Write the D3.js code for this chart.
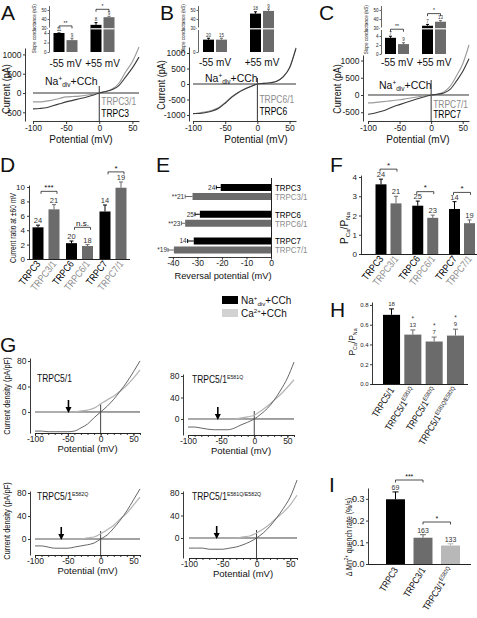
<!DOCTYPE html>
<html><head><meta charset="utf-8">
<script src="https://cdn.jsdelivr.net/npm/d3@7"></script>
<style>
body{margin:0;background:#fff}
svg{display:block;font-family:"Liberation Sans",Arial,Helvetica,sans-serif}
</style></head><body>
<script>
// ================= DATA =================
const ivVolts = [-100,-90,-80,-70,-60,-50,-40,-30,-20,-10,0,10,20,30,40,50,60];
const ivXTicks = [-100,-50,0,50];
const ivTRPC3   = [-410,-400,-380,-330,-280,-230,-190,-150,-110,-60,0,40,90,200,420,650,930];
const ivTRPC3_1 = [-230,-230,-210,-180,-140,-100,-90,-80,-60,-30,0,40,110,260,550,810,1190];
const ivTRPC6   = [-950,-950,-920,-870,-780,-620,-430,-280,-170,-80,0,20,40,90,230,520,1150];
const ivTRPC6_1 = [-970,-930,-900,-850,-760,-600,-410,-270,-160,-70,0,20,40,90,230,530,1170];
const ivTRPC7   = [-560,-530,-480,-420,-340,-280,-220,-160,-100,-50,0,20,60,160,400,680,1050];
const ivTRPC7_1 = [-230,-220,-200,-180,-160,-140,-110,-80,-50,-20,0,30,90,250,550,900,1450];

const insetGroups = ["-55 mV","+55 mV"];
const slopeA_wt = [4.0,33.5], slopeA_wtErr = [0.4,2.5], slopeA_het = [2.5,42], slopeA_hetErr = [0.4,1.0];
const slopeA_nWt = [11,8], slopeA_nHet = [9,9], slopeA_sig = ["**","*"];
const slopeB_wt = [2.6,46], slopeB_wtErr = [0.3,2], slopeB_het = [2.6,49], slopeB_hetErr = [0.3,2];
const slopeB_nWt = [20,18], slopeB_nHet = [15,9], slopeB_sig = [null,null];
const slopeC_wt = [3.6,32.5], slopeC_wtErr = [0.35,1.5], slopeC_het = [2.2,37], slopeC_hetErr = [0.3,1.2];
const slopeC_nWt = [7,7], slopeC_nHet = [9,13], slopeC_sig = ["**","*"];

const chGroups = ["TRPC3","TRPC6","TRPC7"];
const chHetLabels = ["TRPC3/1","TRPC6/1","TRPC7/1"];
const ratioWT = [4.4,2.2,6.6], ratioWTerr = [0.3,0.3,0.9];
const ratioHet = [6.9,1.8,9.9], ratioHetErr = [0.65,0.2,0.8];
const ratioNWT = [24,20,14], ratioNHet = [21,18,19];
const ratioSig = ["***","n.s.","*"], ratioSigAt = [9.4,4.4,12.1];
const ratioTicks = [0,2,4,6,8,10];

const revWT = [-20.5,-29,-31.5], revWTerr = [1.8,2,2.5];
const revHet = [-32,-35,-39.6], revHetErr = [3,1.5,2.4];
const revNWT = [24,25,14], revNHet = [21,23,19], revSig = ["**","**","*"];
const revTicks = [-40,-30,-20,-10,0];

const permWT = [3.62,2.51,2.34], permWTerr = [0.27,0.24,0.38];
const permHet = [2.63,1.88,1.6], permHetErr = [0.37,0.14,0.17];
const permNWT = [24,25,14], permNHet = [21,23,19], permSig = ["*","*","*"], permSigAt = [4.41,3.24,3.2];
const permTicks = [0,1,2,3,4];

const h5Base = "TRPC5/1", h5Sup = ["","E581Q","E582Q","E581Q/E582Q"];
const h5Vals = [0.70,0.50,0.43,0.49], h5Err = [0.06,0.047,0.045,0.065];
const h5N = [18,13,7,9], h5Sig = ["","*","*","*"];
const h5Ticks = [0,0.2,0.4,0.6,0.8];

const mnBase = ["TRPC3","TRPC3/1","TRPC3/1"], mnSup = ["","","E582Q"];
const mnVals = [0.298,0.121,0.085], mnErr = [0.034,0.014,0.008], mnN = [69,163,133];
const mnTicks = [0,0.1,0.2,0.3];

const gNames = ["", "E581Q", "E582Q", "E581Q/E582Q"];
const gNa1 = [-30,-30,-31,-31,-31,-31,-30,-25,-19,-9,0,9,20,33,47,63,80];
const gCa1 = [0,0,0,0,0,0,0,1.6,3,6,12.5,19,25,33,42,53,66];
const gNa2 = [-15,-15,-17,-19,-20,-20,-20,-17,-11,-6,0,9,20,35,54,76,106];
const gCa2 = [0,0,0,0,0,0,0,0,2,4,7,15,24,35,46,59,73];
const gNa3 = [-12,-12,-14,-16,-16,-16,-14,-12,-10,-7,0,7,19,33,49,68,87];
const gCa3 = [0,0,0,0,0,0,0,0,2,3.5,9,16,24,35,45,59,73];
const gNa4 = [-18,-18,-18,-20,-20,-20,-18,-16,-12,-7,0,9,21,36,53,73,103];
const gCa4 = [0,0,0,0,0,0,0,0,2,3.6,9,16,25,36,46,59,76];
const gArrowV = [-49,-55,-60,-59];
const gYTicks = [0,40,80];

// ================= HELPERS =================
const svg = d3.select("body").append("svg").attr("width",477).attr("height",618);
svg.append("rect").attr("width",477).attr("height",618).attr("fill","#fff");
const GRAYBAR = "#6b6b6b", GRAYTXT = "#8c8c8c", INK = "#111";
const plain = d => String(d);

function T(g, x, y, parts, o = {}) {
  const fs = o.size || 10;
  let tr = `translate(${x},${y})`;
  if (o.rotate) tr += ` rotate(${o.rotate})`;
  if (o.sx && o.sx !== 1) tr += ` scale(${o.sx},1)`;
  const t = g.append("text").attr("transform", tr).attr("font-size", fs)
    .attr("fill", o.fill || INK).attr("text-anchor", o.anchor || "start");
  if (o.weight) t.attr("font-weight", o.weight);
  if (typeof parts === "string") parts = [[parts]];
  let cur = 0;
  parts.forEach(([s, k]) => {
    if (!s) return;
    const ts = t.append("tspan").text(s);
    let want = 0;
    if (k === "sup") { ts.attr("font-size", fs * 0.62); want = -fs * 0.4; }
    else if (k === "sub") { ts.attr("font-size", fs * 0.62); want = fs * 0.22; }
    if (want !== cur) { ts.attr("dy", want - cur); cur = want; }
  });
  return t;
}
function styleAxis(a, fs) {
  a.attr("font-family", null).attr("font-size", fs);
  a.selectAll("path,line").attr("stroke", "#222").attr("stroke-width", 0.9);
  a.selectAll("text").attr("fill", "#222");
  return a;
}
function vbar(g, cx, w, y, v, err, fill, base, cap) {
  g.append("rect").attr("x", cx - w/2).attr("y", y(v)).attr("width", w)
    .attr("height", y(base) - y(v)).attr("fill", fill);
  if (err) {
    g.append("line").attr("x1", cx).attr("x2", cx).attr("y1", y(v)).attr("y2", y(v + err))
      .attr("stroke", fill).attr("stroke-width", 1);
    g.append("line").attr("x1", cx - cap/2).attr("x2", cx + cap/2).attr("y1", y(v + err)).attr("y2", y(v + err))
      .attr("stroke", fill).attr("stroke-width", 1);
  }
}
function bracket(g, x1, x2, yy, txt, fs) {
  g.append("path").attr("d", `M${x1},${yy + 2.5}V${yy}H${x2}V${yy + 2.5}`)
    .attr("fill", "none").attr("stroke", "#222").attr("stroke-width", 0.8);
  T(g, (x1 + x2) / 2, yy - 1.2, txt, {size: fs, anchor: "middle"});
}
const naLabel = [["Na"],["+","sup"],["div","sub"],["+CCh"]];

// ================= PANEL LETTERS =================
[["A",1,20],["B",160,20],["C",319,20],["D",0,172],["E",156,172],["F",330,172],["G",0,352],["H",330,317],["I",329,492]]
  .forEach(([s,x,y]) => T(svg, x, y, s, {size: 21}));

// ================= IV PANELS (A, B, C) =================
function ivPanel(p) {
  const g = svg.append("g");
  const x = d3.scaleLinear().domain([-100, 60]).range(p.xr);
  const y = d3.scaleLinear().domain(p.yd).range(p.yr);
  styleAxis(g.append("g").attr("transform", `translate(0,${p.xAxisY})`)
    .call(d3.axisBottom(x).tickValues(ivXTicks).tickFormat(plain).tickSize(3).tickPadding(1).tickSizeOuter(0)), 8.5);
  styleAxis(g.append("g").attr("transform", `translate(${p.yAxisX},0)`)
    .call(d3.axisLeft(y).tickValues(p.yTicks).tickFormat(plain).tickSize(2).tickPadding(1.5).tickSizeOuter(0)), 8.5);
  g.append("line").attr("x1", x(-100)).attr("x2", x(60)).attr("y1", y(0)).attr("y2", y(0)).attr("stroke", "#333");
  g.append("line").attr("x1", x(0)).attr("x2", x(0)).attr("y1", p.vTop).attr("y2", p.xAxisY).attr("stroke", "#333");
  const line = d3.line().x((d, i) => x(ivVolts[i])).y(d => y(d)).curve(d3.curveMonotoneX);
  g.append("path").attr("d", line(p.gray)).attr("fill", "none").attr("stroke", "#9a9a9a").attr("stroke-width", 1.1);
  g.append("path").attr("d", line(p.dark)).attr("fill", "none").attr("stroke", "#3a3a3a").attr("stroke-width", 1.1);
  T(g, p.na[0], p.na[1], naLabel, {size: 10.5});
  T(g, x(0) + 2, p.labY[0], p.grayName, {size: 10, fill: GRAYTXT, sx: 0.85});
  T(g, x(0) + 2, p.labY[1], p.darkName, {size: 10, fill: "#000", sx: 0.85});
  T(g, p.yTitle[0], p.yTitle[1], "Current (pA)", {size: 10, rotate: -90, anchor: "middle", sx: 0.9});
  T(g, p.xTitle[0], p.xTitle[1], "Potential (mV)", {size: 10, anchor: "middle"});
}
ivPanel({xr:[33,139], yd:[-725,1166], yr:[121,48], xAxisY:121, yAxisX:25, yTicks:[-500,0,500,1000],
  vTop:86, dark:ivTRPC3, gray:ivTRPC3_1, darkName:"TRPC3", grayName:"TRPC3/1",
  na:[45,85], labY:[105,117], yTitle:[10,89], xTitle:[81,143]});
ivPanel({xr:[193,296], yd:[-1194,1194], yr:[121,47], xAxisY:121, yAxisX:189, yTicks:[-1000,-500,0,500,1000],
  vTop:78, dark:ivTRPC6, gray:ivTRPC6_1, darkName:"TRPC6", grayName:"TRPC6/1",
  na:[205,82], labY:[103,115], yTitle:[165,85], xTitle:[256,143]});
ivPanel({xr:[368,469], yd:[-754,1159], yr:[121,55], xAxisY:121, yAxisX:363, yTicks:[-500,0,500,1000],
  vTop:80, dark:ivTRPC7, gray:ivTRPC7_1, darkName:"TRPC7", grayName:"TRPC7/1",
  na:[379,89], labY:[108,118], yTitle:[341,89], xTitle:[418,143]});

// ================= INSETS =================
function inset(p) {
  const g = svg.append("g");
  const y = d3.scaleLinear().domain([0, 4, 30, 55]).range(p.yr);
  const cx = d3.scalePoint().domain(insetGroups).range(p.cr);
  const ya = g.append("g").attr("transform", `translate(${p.axisX},0)`)
    .call(d3.axisLeft(y).tickValues(p.ticks).tickFormat(plain).tickSize(1.5).tickPadding(1).tickSizeOuter(0));
  styleAxis(ya, 4.5);
  ya.selectAll("path,line").attr("stroke-width", 0.7);
  insetGroups.forEach((gn, i) => {
    const c = cx(gn);
    vbar(g, c - 6.5, 11, y, p.wt[i], p.wtErr[i], "#000", 0, 3);
    vbar(g, c + 6.5, 11, y, p.het[i], p.hetErr[i], GRAYBAR, 0, 3);
    T(g, c - 6.5, y(p.wt[i] + p.wtErr[i]) - 1.5, String(p.nWt[i]), {size: 4.5, anchor: "middle", fill: "#333"});
    T(g, c + 6.5, y(p.het[i] + p.hetErr[i]) - 1.5, String(p.nHet[i]), {size: 4.5, anchor: "middle", fill: "#333"});
    if (p.sig[i]) {
      const top = Math.min(y(p.wt[i] + p.wtErr[i]), y(p.het[i] + p.hetErr[i])) - 7;
      bracket(g, c - 6.5, c + 6.5, top, p.sig[i], 5);
    }
    T(g, c, p.labY, gn, {size: 10, anchor: "middle"});
  });
  const c2 = cx(insetGroups[1]);
  g.append("line").attr("x1", c2 - 12).attr("x2", c2 + 12).attr("y1", y(30) + 0.8).attr("y2", y(30) + 0.8)
    .attr("stroke", "#fff").attr("stroke-width", 1.2);
  g.append("rect").attr("x", p.axisX - 1).attr("y", y(30) - 0.5).attr("width", 2).attr("height", 2.5).attr("fill", "#fff");
  T(g, p.axisX - 13, (p.yr[0] + p.yr[3]) / 2, "Slope conductance (nS)", {size: 4.6, rotate: -90, anchor: "middle"});
}
inset({axisX:49, yr:[52,33,28,5.5], cr:[65.5,102.5], ticks:[0,2,4,30,40,50], labY:67,
  wt:slopeA_wt, wtErr:slopeA_wtErr, het:slopeA_het, hetErr:slopeA_hetErr, nWt:slopeA_nWt, nHet:slopeA_nHet, sig:slopeA_sig});
inset({axisX:198, yr:[52,33,28,5.5], cr:[215,262], ticks:[0,30,40,50], labY:66,
  wt:slopeB_wt, wtErr:slopeB_wtErr, het:slopeB_het, hetErr:slopeB_hetErr, nWt:slopeB_nWt, nHet:slopeB_nHet, sig:slopeB_sig});
inset({axisX:381, yr:[54,36,28,5.5], cr:[397,434], ticks:[0,2,4,30,40,50], labY:66,
  wt:slopeC_wt, wtErr:slopeC_wtErr, het:slopeC_het, hetErr:slopeC_hetErr, nWt:slopeC_nWt, nHet:slopeC_nHet, sig:slopeC_sig});

// ================= GROUPED BARS (D, F) =================
function groupBars(p) {
  const g = svg.append("g");
  const y = d3.scaleLinear().domain(p.yd).range(p.yr);
  const cx = d3.scalePoint().domain(chGroups).range(p.cr);
  styleAxis(g.append("g").attr("transform", `translate(${p.axisX},0)`)
    .call(d3.axisLeft(y).tickValues(p.ticks).tickFormat(plain).tickSize(2).tickPadding(2).tickSizeOuter(0)), 8);
  g.append("line").attr("x1", p.axisX).attr("x2", p.xEnd).attr("y1", y(0) + 0.5).attr("y2", y(0) + 0.5).attr("stroke", "#222");
  chGroups.forEach((gn, i) => {
    const c = cx(gn), b = c - p.off, h = c + p.off;
    vbar(g, b, 11, y, p.wt[i], p.wtErr[i], "#000", 0, 4);
    vbar(g, h, 11, y, p.het[i], p.hetErr[i], GRAYBAR, 0, 4);
    T(g, b, y(p.wt[i] + p.wtErr[i]) - 2, String(p.nWt[i]), {size: 7.5, anchor: "middle", fill: "#333"});
    T(g, h, y(p.het[i] + p.hetErr[i]) - 2, String(p.nHet[i]), {size: 7.5, anchor: "middle", fill: "#333"});
    bracket(g, b + p.br[0], h + p.br[1], y(p.sigAt[i]), p.sig[i], 8);
    T(g, b + 3, y(0) + p.labDy, gn, {size: 10, anchor: "end", rotate: -52, sx: 0.85, fill: "#000"});
    T(g, h + 3, y(0) + p.labDy, chHetLabels[i], {size: 10, anchor: "end", rotate: -52, sx: 0.85, fill: GRAYTXT});
  });
  return g;
}
const gD = groupBars({axisX:29, xEnd:130, yd:[0,10.28], yr:[259,185], cr:[46,113], off:8, ticks:ratioTicks,
  wt:ratioWT, wtErr:ratioWTerr, het:ratioHet, hetErr:ratioHetErr, nWt:ratioNWT, nHet:ratioNHet,
  sig:ratioSig, sigAt:ratioSigAt, br:[3,3], labDy:5});
T(gD, 16, 228, "Current ratio at \u00b160 mV", {size: 9, rotate: -90, anchor: "middle", sx: 0.75});
const gF = groupBars({axisX:361, xEnd:477, yd:[0,4.1], yr:[254,175.1], cr:[388.5,462], off:7.5, ticks:permTicks,
  wt:permWT, wtErr:permWTerr, het:permHet, hetErr:permHetErr, nWt:permNWT, nHet:permNHet,
  sig:permSig, sigAt:permSigAt, br:[-1,1], labDy:5});
T(gF, 348, 228, [["P"],["Ca","sub"],["/P"],["Na","sub"]], {size: 10, rotate: -90, anchor: "middle"});

// ================= E: reversal potential =================
(function () {
  const g = svg.append("g");
  const x = d3.scaleLinear().domain([-42, 0]).range([168, 271]);
  const row = d3.scalePoint().domain(chGroups).range([192, 245.5]);
  styleAxis(g.append("g").attr("transform", "translate(0,257)")
    .call(d3.axisBottom(x).tickValues(revTicks).tickFormat(plain).tickSize(2.5).tickPadding(0.5).tickSizeOuter(0)), 8.5);
  g.append("line").attr("x1", x(0) + 0.5).attr("x2", x(0) + 0.5).attr("y1", 178).attr("y2", 257).attr("stroke", "#222");
  chGroups.forEach((gn, i) => {
    [[revWT[i], revWTerr[i], revNWT[i], "", "#000", -4.5, gn, "#000"],
     [revHet[i], revHetErr[i], revNHet[i], revSig[i], GRAYBAR, 4.5, chHetLabels[i], GRAYTXT]]
      .forEach(([v, e, n, s, col, off, name, tcol]) => {
        const r = row(gn) + off;
        g.append("rect").attr("x", x(v)).attr("y", r - 3.5).attr("width", x(0) - x(v)).attr("height", 7).attr("fill", col);
        g.append("line").attr("x1", x(v)).attr("x2", x(v - e)).attr("y1", r).attr("y2", r).attr("stroke", col);
        g.append("line").attr("x1", x(v - e)).attr("x2", x(v - e)).attr("y1", r - 2).attr("y2", r + 2).attr("stroke", col);
        T(g, x(v - e) - 1, r + 2.3, s + n, {size: 6.5, anchor: "end", fill: "#333"});
        T(g, x(0) + 4, r + 3.3, name, {size: 9.3, fill: tcol, sx: 0.85});
      });
  });
  T(g, 223, 279, "Reversal potential (mV)", {size: 9.3, anchor: "middle"});
})();

// ================= LEGEND =================
(function () {
  const g = svg.append("g");
  g.append("rect").attr("x", 222).attr("y", 296).attr("width", 16).attr("height", 8).attr("fill", "#000");
  g.append("rect").attr("x", 222).attr("y", 309).attr("width", 16).attr("height", 8).attr("fill", "#d2d2d2");
  T(g, 241, 304, naLabel, {size: 10});
  T(g, 241, 317, [["Ca"],["2+","sup"],["+CCh"]], {size: 10});
})();

// ================= H =================
(function () {
  const g = svg.append("g");
  const y = d3.scaleLinear().domain([0, 0.83]).range([384, 302]);
  const x = d3.scaleBand().domain(d3.range(h5Vals.length)).range([383, 464]).paddingInner(0.2);
  styleAxis(g.append("g").attr("transform", "translate(372,0)")
    .call(d3.axisLeft(y).tickValues(h5Ticks).tickFormat(d3.format(".1f")).tickSize(2).tickPadding(1.5).tickSizeOuter(0)), 6);
  g.append("line").attr("x1", 372).attr("x2", 468).attr("y1", 384.5).attr("y2", 384.5).attr("stroke", "#222");
  h5Vals.forEach((v, i) => {
    const c = x(i) + x.bandwidth() / 2;
    const col = i === 0 ? "#000" : GRAYBAR;
    vbar(g, c, x.bandwidth(), y, v, h5Err[i], col, 0, 5);
    T(g, c, y(v + h5Err[i]) - 3, String(h5N[i]), {size: 6, anchor: "middle", fill: "#333"});
    if (h5Sig[i]) T(g, c, y(v + h5Err[i]) - 9, h5Sig[i], {size: 6.5, anchor: "middle", fill: "#333"});
    T(g, c + 3, 390, [[h5Base], [h5Sup[i], "sup"]], {size: 9.5, anchor: "end", rotate: -58, sx: 0.85});
  });
  T(g, 355, 342, [["P"],["Ca","sub"],["/P"],["Na","sub"]], {size: 8.5, rotate: -90, anchor: "middle"});
})();

// ================= I =================
(function () {
  const g = svg.append("g");
  const y = d3.scaleLinear().domain([0, 0.35]).range([564, 488]);
  const x = d3.scaleBand().domain(d3.range(mnVals.length)).range([386, 460]).paddingInner(0.31);
  styleAxis(g.append("g").attr("transform", "translate(368,0)")
    .call(d3.axisLeft(y).tickValues(mnTicks).tickFormat(d3.format(".1f")).tickSize(2).tickPadding(1.5).tickSizeOuter(0)), 9);
  g.append("line").attr("x1", 368).attr("x2", 471).attr("y1", 564.5).attr("y2", 564.5).attr("stroke", "#222");
  const cols = ["#000", "#6c6c6c", "#b8b8b8"];
  const cs = mnVals.map((v, i) => x(i) + x.bandwidth() / 2);
  mnVals.forEach((v, i) => {
    vbar(g, cs[i], x.bandwidth(), y, v, mnErr[i], cols[i], 0, 6);
    T(g, cs[i], y(v + mnErr[i]) - 1.5, String(mnN[i]), {size: 7, anchor: "middle", fill: "#333"});
    T(g, cs[i] + 3, 570, [[mnBase[i]], [mnSup[i], "sup"]], {size: 9.5, anchor: "end", rotate: -58, sx: 0.85});
  });
  bracket(g, cs[0], cs[1], 480, "***", 7);
  bracket(g, cs[1], cs[2], 522, "*", 7);
  T(g, 352, 537, [["\u0394 Mn"], ["2+", "sup"], [" quench rate (%/s)"]], {size: 9, rotate: -90, anchor: "middle", sx: 0.78});
})();

// ================= G =================
function gPanel(p) {
  const g = svg.append("g");
  const x = d3.scaleLinear().domain([-100, 60]).range(p.xr);
  const y = d3.scaleLinear().domain(p.yd).range(p.yr);
  styleAxis(g.append("g").attr("transform", `translate(0,${p.xAxisY})`)
    .call(d3.axisBottom(x).tickValues(d3.range(-100, 61, 10)).tickSize(2).tickFormat("").tickSizeOuter(0)), 8);
  styleAxis(g.append("g").attr("transform", `translate(0,${p.xAxisY})`)
    .call(d3.axisBottom(x).tickValues(ivXTicks).tickFormat(plain).tickSize(3).tickPadding(0).tickSizeOuter(0)), 8.5);
  styleAxis(g.append("g").attr("transform", `translate(${p.yAxisX},0)`)
    .call(d3.axisLeft(y).tickValues(gYTicks).tickFormat(plain).tickSize(2).tickPadding(1.5).tickSizeOuter(0)), 8.5);
  g.append("line").attr("x1", x(-100)).attr("x2", x(60)).attr("y1", y(0)).attr("y2", y(0)).attr("stroke", "#444");
  g.append("line").attr("x1", x(0)).attr("x2", x(0)).attr("y1", y(0) - 8).attr("y2", p.xAxisY).attr("stroke", "#444");
  const line = d3.line().x((d, i) => x(ivVolts[i])).y(d => y(d)).curve(d3.curveMonotoneX);
  g.append("path").attr("d", line(p.ca)).attr("fill", "none").attr("stroke", "#b4b4b4").attr("stroke-width", 1.2);
  g.append("path").attr("d", line(p.na)).attr("fill", "none").attr("stroke", "#555").attr("stroke-width", 0.9);
  const ax = x(p.arrow), tip = y(0) + 1;
  g.append("line").attr("x1", ax).attr("x2", ax).attr("y1", tip - 13).attr("y2", tip - 5).attr("stroke", "#000").attr("stroke-width", 1.6);
  g.append("path").attr("d", `M${ax - 3},${tip - 6}L${ax + 3},${tip - 6}L${ax},${tip}Z`).attr("fill", "#000");
  T(g, p.name[0], p.name[1], [["TRPC5/1"], [p.sup, "sup"]], {size: 10, sx: 0.85});
  T(g, x(-20), p.xTitleY, "Potential (mV)", {size: 9.5, anchor: "middle"});
  if (p.yTitle) T(g, 10, p.yTitle, "Current density (pA/pF)", {size: 9, rotate: -90, anchor: "middle", sx: 0.83});
}
gPanel({xr:[35,140], yd:[-33,84.7], yr:[433,358], xAxisY:433, yAxisX:30, na:gNa1, ca:gCa1, arrow:gArrowV[0],
  sup:gNames[0], name:[37,382], xTitleY:452, yTitle:396});
gPanel({xr:[188,294], yd:[-29.8,83.7], yr:[435,374], xAxisY:435, yAxisX:183, na:gNa2, ca:gCa2, arrow:gArrowV[1],
  sup:gNames[1], name:[192,383], xTitleY:454});
gPanel({xr:[35,140], yd:[-27.8,83.5], yr:[555,491], xAxisY:555, yAxisX:30, na:gNa3, ca:gCa3, arrow:gArrowV[2],
  sup:gNames[2], name:[37,500], xTitleY:574, yTitle:521});
gPanel({xr:[189,297], yd:[-35.6,83.6], yr:[558,491], xAxisY:558, yAxisX:183, na:gNa4, ca:gCa4, arrow:gArrowV[3],
  sup:gNames[3], name:[192,500], xTitleY:577});
</script>
</body></html>
